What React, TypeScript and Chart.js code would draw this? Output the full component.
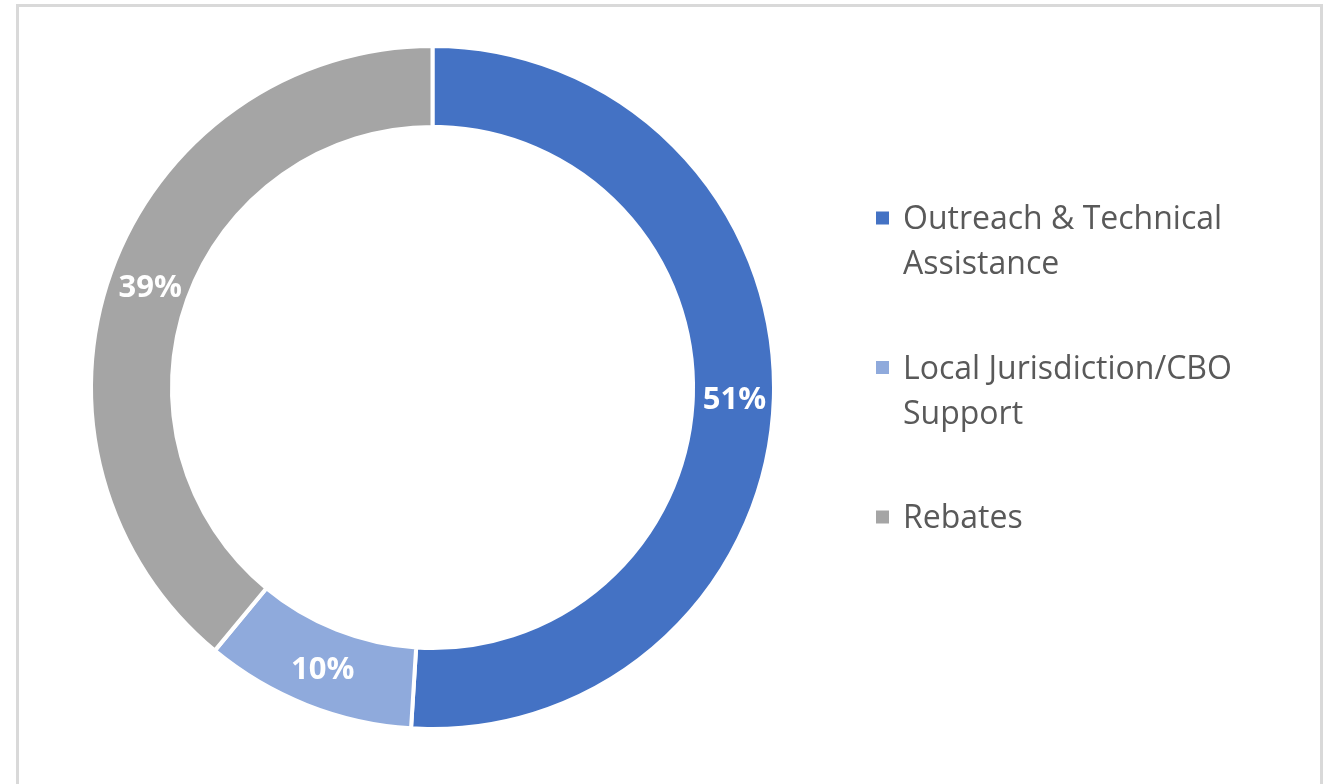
import React, { useEffect, useRef } from "react";
import { Chart, registerables } from "chart.js";

Chart.register(...registerables);

const categories = ["Outreach & Technical Assistance", "Local Jurisdiction/CBO Support", "Rebates"];
const shares = [51, 10, 39];
const sliceColors = ["#4472C4", "#8FAADC", "#A5A5A5"];
const valueLabels = ["51%", "10%", "39%"];

const labelPlugin = {
  id: "sliceLabels",
  afterDatasetsDraw(chart: any) {
    const ctx = chart.ctx;
    const meta = chart.getDatasetMeta(0);
    ctx.save();
    ctx.fillStyle = "#FFFFFF";
    ctx.font = "bold 31px 'Open Sans'";
    ctx.textAlign = "center";
    ctx.textBaseline = "middle";
    meta.data.forEach((arc: any, i: number) => {
      const p = arc.getCenterPoint();
      ctx.fillText(valueLabels[i], p.x + 1, p.y + 3);
    });
    ctx.restore();
  },
};

const legendPlugin = {
  id: "sideLegend",
  afterDraw(chart: any) {
    const ctx = chart.ctx;
    ctx.save();
    ctx.font = "32px 'Open Sans'";
    ctx.textBaseline = "middle";
    ctx.textAlign = "left";
    const x0 = 876;
    const textX = 903;
    const maxW = 370;
    chart.data.labels.forEach((lab: string, i: number) => {
      const y = 218 + i * 149.5;
      ctx.fillStyle = sliceColors[i];
      ctx.fillRect(x0, y - 6.5, 13, 13);
      const words = lab.split(" ");
      const lines: string[] = [];
      let cur = "";
      words.forEach((w) => {
        const test = cur ? cur + " " + w : w;
        if (ctx.measureText(test).width > maxW && cur) {
          lines.push(cur);
          cur = w;
        } else cur = test;
      });
      if (cur) lines.push(cur);
      ctx.fillStyle = "#595959";
      lines.forEach((ln, j) => ctx.fillText(ln, textX, y + 2 + j * 45));
    });
    ctx.restore();
  },
};

export default function App() {
  const ref = useRef<HTMLCanvasElement>(null);
  useEffect(() => {
    document.body.style.overflow = "hidden";
    const chart = new Chart(ref.current as HTMLCanvasElement, {
      type: "doughnut",
      data: {
        labels: categories,
        datasets: [
          {
            data: shares,
            backgroundColor: sliceColors,
            borderColor: "#FFFFFF",
            borderWidth: 4,
          },
        ],
      },
      options: {
        responsive: false,
        animation: false,
        radius: 341.5,
        cutout: 257.5,
        layout: { padding: { left: 93, top: 48, right: 555, bottom: 57 } },
        plugins: { legend: { display: false }, tooltip: { enabled: false } },
      },
      plugins: [labelPlugin, legendPlugin],
    });
    return () => chart.destroy();
  }, []);
  return (
    <div style={{ position: "fixed", left: 0, top: 0, width: 1327, height: 784, overflow: "hidden", background: "#fff" }}>
      <div
        style={{
          position: "absolute",
          left: 16,
          top: 4,
          width: 1307,
          height: 820,
          border: "3px solid #D9D9D9",
          boxSizing: "border-box",
        }}
      />
      <canvas ref={ref} width={1327} height={784} style={{ position: "absolute", left: 0, top: 0 }} />
    </div>
  );
}
